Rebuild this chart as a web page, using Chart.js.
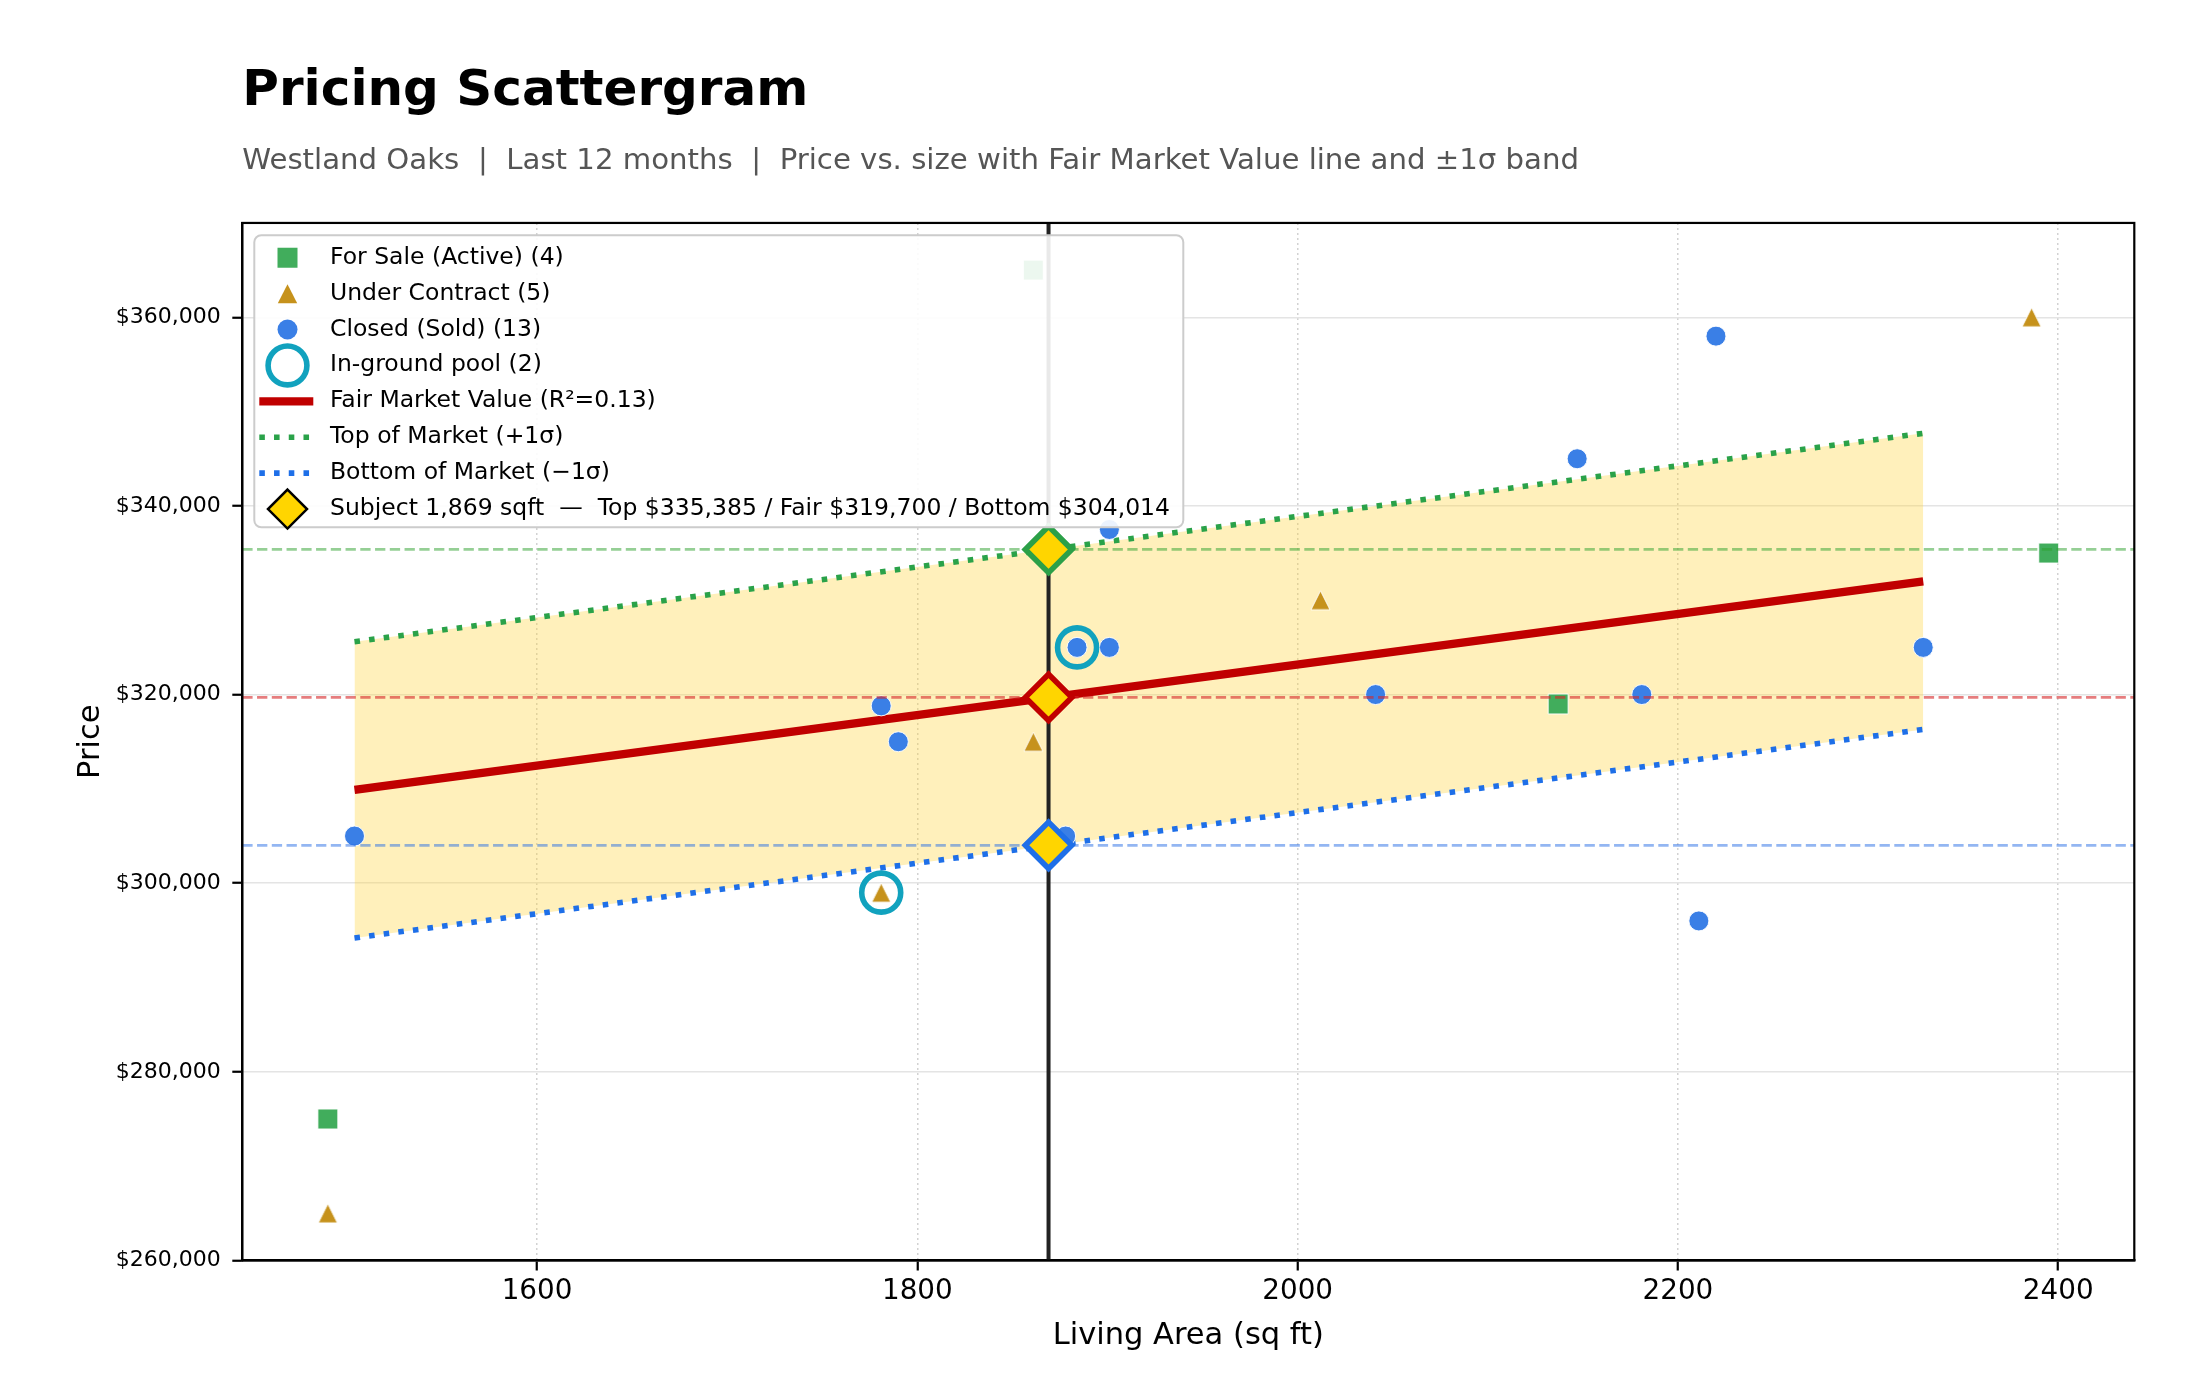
<!DOCTYPE html>
<html>
<head>
<meta charset="utf-8">
<title>Pricing Scattergram</title>
<script src="https://cdn.jsdelivr.net/npm/chart.js@4.4.1/dist/chart.umd.min.js"></script>
<style>
  html, body { margin: 0; padding: 0; background: #ffffff; }
  #wrap { width: 2200px; height: 1400px; position: relative; }
</style>
</head>
<body>
<div id="wrap"><canvas id="chart"></canvas></div>
<script>
// ---------------- DATA ----------------
const forSaleX = [1490, 1861, 2137, 2395];
const forSaleY = [275000, 365000, 319000, 335000];

const underX = [1490, 1781, 1861, 2012, 2386];
const underY = [265000, 299000, 315000, 330000, 360000];

const closedX = [1504, 1781, 1790, 1878, 1884, 1901, 1901, 2041, 2147, 2181, 2211, 2220, 2329];
const closedY = [305000, 318800, 315000, 305000, 325000, 325000, 337500, 320000, 345000, 320000, 296000, 358000, 325000];

const poolX = [1781, 1884];
const poolY = [299000, 325000];

// Fair Market Value line and ±1σ band end points
const fmvX = [1504, 2329];
const fmvY = [309900, 332000];
const topY = [325600, 347700];
const bottomY = [294200, 316300];
const rSquared = 0.13;

// Subject property
const subjectSqft = 1869;
const subjectTop = 335385;
const subjectFair = 319700;
const subjectBottom = 304014;

// Axes and tick labels
const xMin = 1445, xMax = 2440;
const yMin = 260000, yMax = 370000;
const xTicks = [1600, 1800, 2000, 2200, 2400];
const yTicks = [260000, 280000, 300000, 320000, 340000, 360000];

// ---------------- STYLE ----------------
const FONT = "'DejaVu Sans', 'Liberation Sans', sans-serif";
const C_GREEN = '#41AD5C';
const C_GOLD = '#C6921C';
const C_BLUE = '#3A7FE6';
const C_TEAL = '#11A2BE';
const C_RED = '#C00000';
const C_TOP = '#2AA249';
const C_BOT = '#1E6FE8';
const C_DIAMOND = '#FFD500';
const C_BAND = 'rgba(255,213,60,0.35)';
const DOT = [5.56, 9.17];

Chart.defaults.font.family = FONT;
Chart.defaults.color = '#000';

const pts = (xs, ys) => xs.map((x, i) => ({ x: x, y: ys[i] }));
const fmt = v => v.toLocaleString('en-US');

// matplotlib-like triangle marker (centered on its bounding box)
function makeTriangle(size, color) {
  const c = document.createElement('canvas');
  const pad = 2;
  c.width = size + pad * 2; c.height = size + pad * 2;
  const g = c.getContext('2d');
  g.beginPath();
  g.moveTo(pad + size / 2, pad);
  g.lineTo(pad + size, pad + size);
  g.lineTo(pad, pad + size);
  g.closePath();
  g.fillStyle = color; g.fill();
  g.lineWidth = 1; g.strokeStyle = 'rgba(255,255,255,0.9)'; g.stroke();
  return c;
}
const triImg = makeTriangle(19, C_GOLD);

// ---------------- PLUGINS ----------------
const framePlugin = {
  id: 'frame',
  afterDatasetsDraw(chart) {
    const { ctx, chartArea: a } = chart;
    ctx.save();
    ctx.strokeStyle = '#000';
    ctx.lineWidth = 2.2;
    ctx.setLineDash([]);
    ctx.strokeRect(a.left, a.top, a.right - a.left, a.bottom - a.top);
    ctx.restore();
  }
};

const legendEntries = [
  { kind: 'square', color: C_GREEN, text: `For Sale (Active) (${forSaleX.length})` },
  { kind: 'triangle', color: C_GOLD, text: `Under Contract (${underX.length})` },
  { kind: 'circle', color: C_BLUE, text: `Closed (Sold) (${closedX.length})` },
  { kind: 'ring', color: C_TEAL, text: `In-ground pool (${poolX.length})` },
  { kind: 'line', color: C_RED, width: 8.3, dash: [], text: `Fair Market Value (R\u00B2=${rSquared.toFixed(2)})` },
  { kind: 'line', color: C_TOP, width: 5.56, dash: DOT, text: 'Top of Market (+1\u03C3)' },
  { kind: 'line', color: C_BOT, width: 5.56, dash: DOT, text: 'Bottom of Market (\u22121\u03C3)' },
  { kind: 'diamond', color: C_DIAMOND, text: `Subject ${fmt(subjectSqft)} sqft  \u2014  Top $${fmt(subjectTop)} / Fair $${fmt(subjectFair)} / Bottom $${fmt(subjectBottom)}` }
];

const legendPlugin = {
  id: 'insideLegend',
  afterDraw(chart) {
    const { ctx, chartArea: a } = chart;
    const bx = a.left + 12, by = a.top + 12.3, bw = 929, bh = 292, r = 7;
    ctx.save();
    ctx.beginPath();
    ctx.moveTo(bx + r, by);
    ctx.lineTo(bx + bw - r, by);
    ctx.arcTo(bx + bw, by, bx + bw, by + r, r);
    ctx.lineTo(bx + bw, by + bh - r);
    ctx.arcTo(bx + bw, by + bh, bx + bw - r, by + bh, r);
    ctx.lineTo(bx + r, by + bh);
    ctx.arcTo(bx, by + bh, bx, by + bh - r, r);
    ctx.lineTo(bx, by + r);
    ctx.arcTo(bx, by, bx + r, by, r);
    ctx.closePath();
    ctx.fillStyle = 'rgba(255,255,255,0.9)';
    ctx.fill();
    ctx.lineWidth = 2;
    ctx.strokeStyle = '#cccccc';
    ctx.stroke();

    const mx = bx + 33.2;
    const tx = bx + 75.7;
    const y0 = by + 22.5, step = 35.9;
    ctx.font = `23.5px ${FONT}`;
    ctx.textBaseline = 'alphabetic';
    ctx.textAlign = 'left';
    legendEntries.forEach((e, i) => {
      const y = y0 + i * step;
      ctx.save();
      ctx.setLineDash([]);
      if (e.kind === 'square') {
        ctx.fillStyle = e.color;
        ctx.fillRect(mx - 10, y - 10, 20, 20);
      } else if (e.kind === 'triangle') {
        ctx.beginPath();
        ctx.moveTo(mx, y - 9.5); ctx.lineTo(mx + 9.7, y + 9.5); ctx.lineTo(mx - 9.7, y + 9.5);
        ctx.closePath(); ctx.fillStyle = e.color; ctx.fill();
      } else if (e.kind === 'circle') {
        ctx.beginPath(); ctx.arc(mx, y, 10, 0, Math.PI * 2);
        ctx.fillStyle = e.color; ctx.fill();
      } else if (e.kind === 'ring') {
        ctx.beginPath(); ctx.arc(mx, y, 19.4, 0, Math.PI * 2);
        ctx.lineWidth = 5.6; ctx.strokeStyle = e.color; ctx.stroke();
      } else if (e.kind === 'line') {
        ctx.beginPath(); ctx.moveTo(bx + 5, y); ctx.lineTo(bx + 59, y);
        ctx.lineWidth = e.width; ctx.strokeStyle = e.color; ctx.lineCap = 'butt';
        ctx.setLineDash(e.dash); ctx.stroke();
      } else if (e.kind === 'diamond') {
        const d = 19.5;
        ctx.beginPath();
        ctx.moveTo(mx, y - d); ctx.lineTo(mx + d, y); ctx.lineTo(mx, y + d); ctx.lineTo(mx - d, y);
        ctx.closePath(); ctx.fillStyle = e.color; ctx.fill();
        ctx.lineWidth = 2.5; ctx.strokeStyle = '#000'; ctx.lineJoin = 'miter'; ctx.stroke();
      }
      ctx.restore();
      ctx.fillStyle = '#000';
      ctx.fillText(e.text, tx, y + 6);
    });
    ctx.restore();
  }
};

// ---------------- CHART ----------------
const lineBase = { type: 'line', pointRadius: 0, pointHoverRadius: 0, tension: 0, borderCapStyle: 'butt', fill: false };

const datasets = [
  Object.assign({}, lineBase, { label: 'band top', data: pts(fmvX, topY), borderWidth: 0, borderColor: 'rgba(0,0,0,0)', fill: '+1', backgroundColor: C_BAND, order: 100 }),
  Object.assign({}, lineBase, { label: 'band bottom', data: pts(fmvX, bottomY), borderWidth: 0, borderColor: 'rgba(0,0,0,0)', order: 100 }),
  Object.assign({}, lineBase, { label: 'Subject size', data: [{ x: subjectSqft, y: yMin }, { x: subjectSqft, y: yMax }], borderColor: '#222222', borderWidth: 4, order: 90 }),
  Object.assign({}, lineBase, { label: 'Top of Market (+1σ)', data: pts(fmvX, topY), borderColor: C_TOP, borderWidth: 5.56, borderDash: DOT, order: 80 }),
  Object.assign({}, lineBase, { label: 'Bottom of Market (−1σ)', data: pts(fmvX, bottomY), borderColor: C_BOT, borderWidth: 5.56, borderDash: DOT, order: 80 }),
  Object.assign({}, lineBase, { label: 'Fair Market Value', data: pts(fmvX, fmvY), borderColor: C_RED, borderWidth: 8.3, order: 70 }),
  { type: 'scatter', label: 'For Sale (Active)', data: pts(forSaleX, forSaleY), pointStyle: 'rect', pointRadius: 14.1, pointHoverRadius: 14.1,
    pointBackgroundColor: C_GREEN, pointBorderColor: 'rgba(255,255,255,0.9)', pointBorderWidth: 1, order: 60 },
  { type: 'scatter', label: 'Under Contract', data: pts(underX, underY), pointStyle: triImg, pointRadius: 12, pointHoverRadius: 12,
    pointBackgroundColor: C_GOLD, pointBorderWidth: 0, order: 60 },
  { type: 'scatter', label: 'Closed (Sold)', data: pts(closedX, closedY), pointStyle: 'circle', pointRadius: 10, pointHoverRadius: 10,
    pointBackgroundColor: C_BLUE, pointBorderColor: 'rgba(255,255,255,0.9)', pointBorderWidth: 1, order: 60 },
  Object.assign({}, lineBase, { label: 'Top ref', data: [{ x: xMin, y: subjectTop }, { x: xMax, y: subjectTop }], borderColor: 'rgba(44,160,44,0.5)', borderWidth: 2.8, borderDash: [10.3, 4.45], order: 50 }),
  Object.assign({}, lineBase, { label: 'Fair ref', data: [{ x: xMin, y: subjectFair }, { x: xMax, y: subjectFair }], borderColor: 'rgba(214,39,40,0.6)', borderWidth: 2.8, borderDash: [10.3, 4.45], order: 50 }),
  Object.assign({}, lineBase, { label: 'Bottom ref', data: [{ x: xMin, y: subjectBottom }, { x: xMax, y: subjectBottom }], borderColor: 'rgba(40,110,230,0.5)', borderWidth: 2.8, borderDash: [10.3, 4.45], order: 50 }),
  { type: 'scatter', label: 'In-ground pool', data: pts(poolX, poolY), pointStyle: 'circle', pointRadius: 19.5, pointHoverRadius: 19.5,
    pointBackgroundColor: 'rgba(0,0,0,0)', pointBorderColor: C_TEAL, pointBorderWidth: 5.6, order: 40 },
  { type: 'scatter', label: 'Subject', data: [subjectTop, subjectFair, subjectBottom].map(v => ({ x: subjectSqft, y: v })),
    pointStyle: 'rectRot', pointRadius: 23.2, pointHoverRadius: 23.2, pointBackgroundColor: C_DIAMOND,
    pointBorderColor: ['#2CA048', C_RED, '#1F6FE8'], pointBorderWidth: 5.6, order: 10 }
];

new Chart(document.getElementById('chart'), {
  type: 'scatter',
  data: { datasets: datasets },
  plugins: [framePlugin, legendPlugin],
  options: {
    responsive: true,
    maintainAspectRatio: false,
    animation: false,
    events: [],
    layout: { padding: { left: 0, right: 65.7, top: 0, bottom: 0 } },
    plugins: {
      legend: { display: false },
      tooltip: { enabled: false },
      title: {
        display: true, text: 'Pricing Scattergram', align: 'start', fullSize: false,
        color: '#000', font: { size: 50, weight: 'bold', family: FONT },
        padding: { top: 62, bottom: 0 }
      },
      subtitle: {
        display: true, text: 'Westland Oaks  |  Last 12 months  |  Price vs. size with Fair Market Value line and \u00B11\u03C3 band',
        align: 'start', fullSize: false, color: '#555555', font: { size: 29.2, family: FONT },
        padding: { top: 21.5, bottom: 44.4 }
      }
    },
    scales: {
      x: {
        type: 'linear', min: xMin, max: xMax,
        afterBuildTicks: s => { s.ticks = xTicks.map(v => ({ value: v })); },
        ticks: { autoSkip: false, maxRotation: 0, color: '#000',
          font: { size: 27.8 }, padding: 4.5, callback: v => String(v) },
        grid: { color: '#d2d2d2', lineWidth: 1.5, tickLength: 10, tickColor: '#000', tickWidth: 2.2 },
        border: { display: true, color: '#000', width: 2.2, dash: [2, 3] },
        title: { display: true, text: 'Living Area (sq ft)', color: '#000', font: { size: 30.5 }, padding: { top: 0, bottom: 45.5 } },
        afterFit: s => { s.height = 139.5; }
      },
      y: {
        type: 'linear', min: yMin, max: yMax,
        afterBuildTicks: s => { s.ticks = yTicks.map(v => ({ value: v })); },
        ticks: { autoSkip: false, color: '#000', font: { size: 22 }, padding: 11.6,
          callback: v => '$' + fmt(v) },
        grid: { color: '#e4e4e4', lineWidth: 1.5, tickLength: 10, tickColor: '#000', tickWidth: 2.2 },
        border: { display: true, color: '#000', width: 2.2 },
        title: { display: true, text: 'Price', color: '#000', font: { size: 30.5 }, padding: { top: 72.7, bottom: 0 } },
        afterFit: s => { s.width = 242.3; }
      }
    }
  }
});
</script>
</body>
</html>
